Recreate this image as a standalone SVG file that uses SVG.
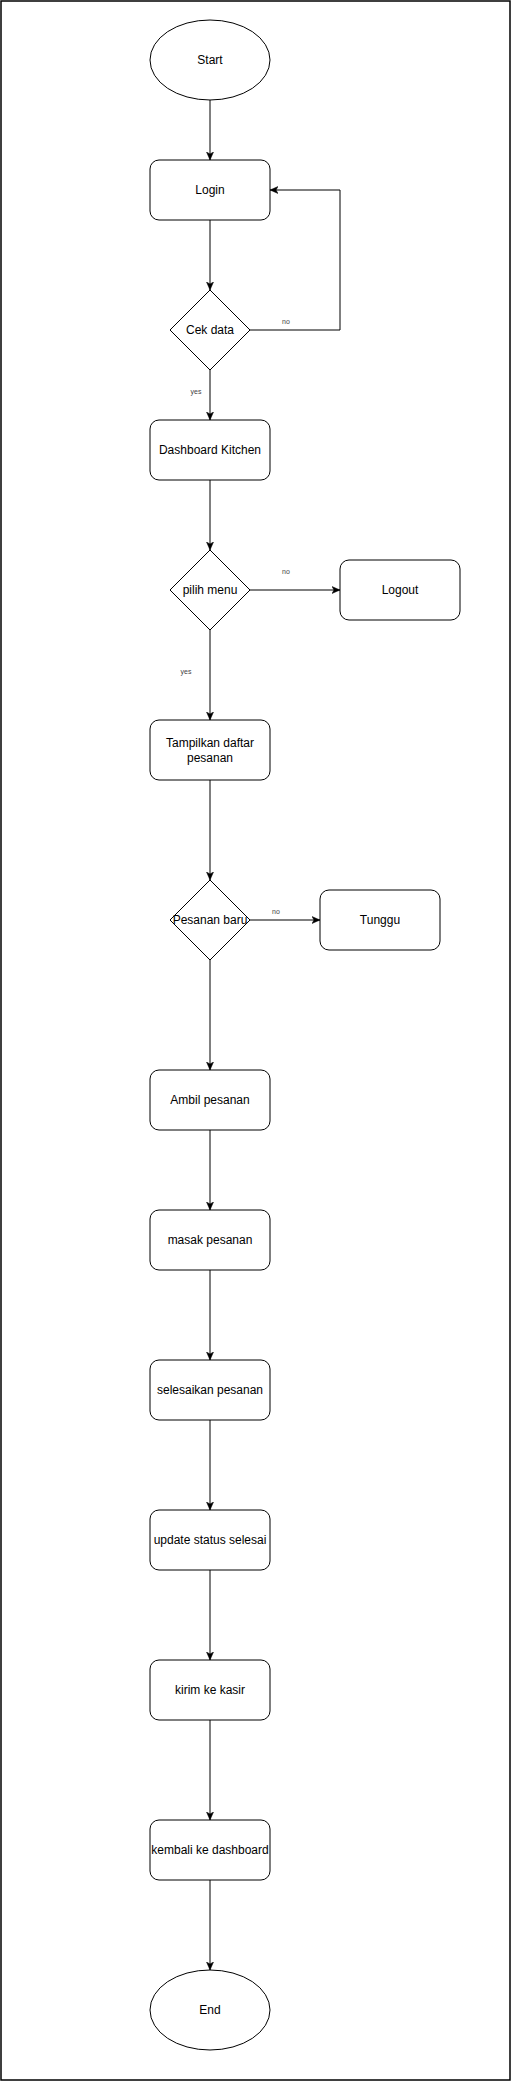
<svg xmlns="http://www.w3.org/2000/svg" width="511" height="2081" viewBox="0 0 511 2081">
<style>
.n{fill:#fff;stroke:#000;stroke-width:1}
.t{font-family:"Liberation Sans",Arial,sans-serif;font-size:12px;fill:#000;text-anchor:middle;dominant-baseline:central}
.l{font-family:"Liberation Sans",Arial,sans-serif;font-size:7px;fill:#444;text-anchor:middle;dominant-baseline:central}
.e{fill:none;stroke:#000;stroke-width:1}
</style>
<defs>
<marker id="a" markerUnits="userSpaceOnUse" markerWidth="10" markerHeight="10" refX="8" refY="4" orient="auto" viewBox="0 0 10 8">
<path d="M0,0.5 L8,4 L0,7.5 L2,4 Z" fill="#000" stroke="#000" stroke-width="0.5"/>
</marker>
</defs>
<rect x="1" y="1" width="509" height="2079" fill="#fff" stroke="#000" stroke-width="1.5"/>
<g id="connectors">
<path class="e" d="M210,100 V160" marker-end="url(#a)"/>
<path class="e" d="M210,220 V290" marker-end="url(#a)"/>
<path class="e" d="M250,330 H340 V190 H270" marker-end="url(#a)"/>
<path class="e" d="M210,370 V420" marker-end="url(#a)"/>
<path class="e" d="M210,480 V550" marker-end="url(#a)"/>
<path class="e" d="M250,590 H340" marker-end="url(#a)"/>
<path class="e" d="M210,630 V720" marker-end="url(#a)"/>
<path class="e" d="M210,780 V880" marker-end="url(#a)"/>
<path class="e" d="M250,920 H320" marker-end="url(#a)"/>
<path class="e" d="M210,960 V1070" marker-end="url(#a)"/>
<path class="e" d="M210,1130 V1210" marker-end="url(#a)"/>
<path class="e" d="M210,1270 V1360" marker-end="url(#a)"/>
<path class="e" d="M210,1420 V1510" marker-end="url(#a)"/>
<path class="e" d="M210,1570 V1660" marker-end="url(#a)"/>
<path class="e" d="M210,1720 V1820" marker-end="url(#a)"/>
<path class="e" d="M210,1880 V1970" marker-end="url(#a)"/>
<text class="l" x="286" y="321">no</text>
<text class="l" x="196" y="391">yes</text>
<text class="l" x="286" y="571">no</text>
<text class="l" x="186" y="671">yes</text>
<text class="l" x="276" y="911">no</text>
</g>
<g id="start"><ellipse class="n" cx="210" cy="60" rx="60" ry="40"/><text class="t" x="210" y="60">Start</text></g>
<g id="login"><rect class="n" x="150" y="160" width="120" height="60" rx="9"/><text class="t" x="210" y="190">Login</text></g>
<g id="cekdata"><path class="n" d="M210,290 L250,330 L210,370 L170,330 Z"/><text class="t" x="210" y="330">Cek data</text></g>
<g id="dashboard"><rect class="n" x="150" y="420" width="120" height="60" rx="9"/><text class="t" x="210" y="450">Dashboard Kitchen</text></g>
<g id="pilihmenu"><path class="n" d="M210,550 L250,590 L210,630 L170,590 Z"/><text class="t" x="210" y="590">pilih menu</text></g>
<g id="logout"><rect class="n" x="340" y="560" width="120" height="60" rx="9"/><text class="t" x="400" y="590">Logout</text></g>
<g id="tampilkan"><rect class="n" x="150" y="720" width="120" height="60" rx="9"/><text class="t" x="210" y="743">Tampilkan daftar</text><text class="t" x="210" y="758">pesanan</text></g>
<g id="pesananbaru"><path class="n" d="M210,880 L250,920 L210,960 L170,920 Z"/><text class="t" x="210" y="920">Pesanan baru</text></g>
<g id="tunggu"><rect class="n" x="320" y="890" width="120" height="60" rx="9"/><text class="t" x="380" y="920">Tunggu</text></g>
<g id="ambil"><rect class="n" x="150" y="1070" width="120" height="60" rx="9"/><text class="t" x="210" y="1100">Ambil pesanan</text></g>
<g id="masak"><rect class="n" x="150" y="1210" width="120" height="60" rx="9"/><text class="t" x="210" y="1240">masak pesanan</text></g>
<g id="selesaikan"><rect class="n" x="150" y="1360" width="120" height="60" rx="9"/><text class="t" x="210" y="1390">selesaikan pesanan</text></g>
<g id="update"><rect class="n" x="150" y="1510" width="120" height="60" rx="9"/><text class="t" x="210" y="1540">update status selesai</text></g>
<g id="kirim"><rect class="n" x="150" y="1660" width="120" height="60" rx="9"/><text class="t" x="210" y="1690">kirim ke kasir</text></g>
<g id="kembali"><rect class="n" x="150" y="1820" width="120" height="60" rx="9"/><text class="t" x="210" y="1850">kembali ke dashboard</text></g>
<g id="end"><ellipse class="n" cx="210" cy="2010" rx="60" ry="40"/><text class="t" x="210" y="2010">End</text></g>
</svg>
